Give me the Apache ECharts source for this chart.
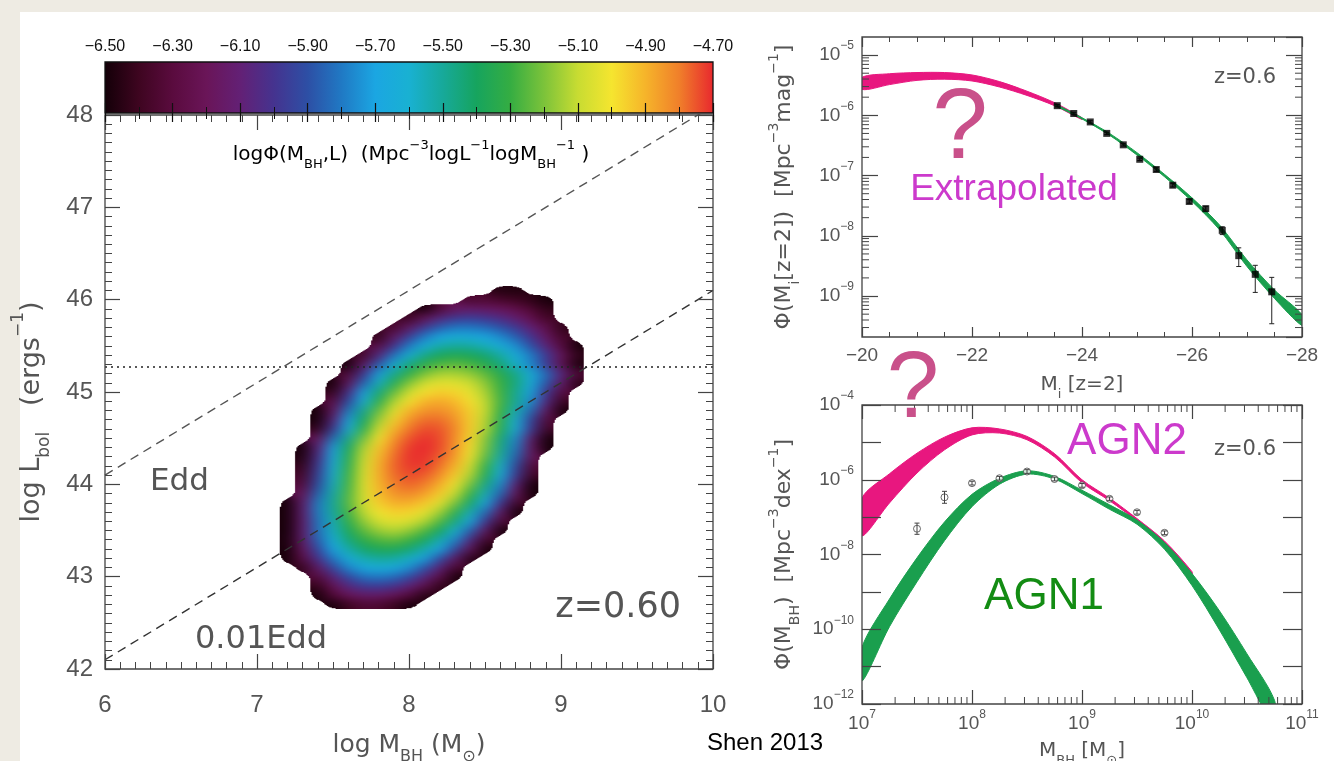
<!DOCTYPE html>
<html>
<head>
<meta charset="utf-8">
<script src="https://cdn.jsdelivr.net/npm/echarts@6/dist/echarts.min.js"></script>
<style>
html, body { margin: 0; padding: 0; width: 1334px; height: 761px; overflow: hidden; background: #eeebe3; }
#paper { position: absolute; left: 20px; top: 12px; width: 1314px; height: 749px; background: #ffffff; }
#chart { position: absolute; left: 0; top: 0; width: 1334px; height: 761px; }
</style>
</head>
<body>
<div id="paper"></div>
<div id="chart"></div>
<script>
// ---------- Left panel: joint distribution of BH mass and bolometric luminosity (z = 0.60) ----------
const massCols = [7.1, 7.2, 7.3, 7.4, 7.5, 7.6, 7.7, 7.8, 7.9, 8.0, 8.1, 8.2, 8.3, 8.4, 8.5, 8.6, 8.7, 8.8, 8.9, 9.0, 9.1, 9.2];
const lumRows = [46.1, 46.0, 45.9, 45.8, 45.7, 45.6, 45.5, 45.4, 45.3, 45.2, 45.1, 45.0, 44.9, 44.8, 44.7, 44.6,
                 44.5, 44.4, 44.3, 44.2, 44.1, 44.0, 43.9, 43.8, 43.7, 43.6, 43.5, 43.4, 43.3, 43.2, 43.1, 43.0,
                 42.9, 42.8, 42.7];
// logPhi per cell, in steps of 0.01 above the -6.50 floor ('-' = below the floor)
const densityRows = [
  "-  -  -  -  -  -  -  -  -  -  -  -  -  -  -  4  3  -  -  -  -  -",
  "-  -  -  -  -  -  -  -  -  -  -  -  -  15 16 14 11 6  1  -  -  -",
  "-  -  -  -  -  -  -  -  -  -  1  18 31 36 34 31 25 17 7  -  -  -",
  "-  -  -  -  -  -  -  -  -  9  30 44 52 54 51 46 38 26 12 -  -  -",
  "-  -  -  -  -  -  -  -  13 35 52 64 70 70 67 61 52 40 25 7  -  -",
  "-  -  -  -  -  -  -  7  34 55 71 81 86 85 81 74 64 50 33 13 -  -",
  "-  -  -  -  -  -  -  22 50 71 87 97 100 99 94 86 75 60 42 20 1  -",
  "-  -  -  -  -  -  12 43 69 89 103 111 114 112 107 98 86 71 53 31 7  -",
  "-  -  -  -  -  1  33 63 87 105 118 124 126 123 116 106 91 73 52 27 1  -",
  "-  -  -  -  -  16 51 79 102 119 130 136 136 133 126 116 103 86 67 43 17 -",
  "-  -  -  -  1  31 65 93 115 131 142 146 145 141 132 120 105 85 62 35 5  -",
  "-  -  -  -  8  47 79 106 127 142 151 155 153 147 136 121 102 79 51 19 -  -",
  "-  -  -  -  20 58 90 117 137 151 160 162 159 151 139 122 101 75 45 10 -  -",
  "-  -  -  1  32 70 102 127 146 160 166 167 163 154 140 120 96 66 32 1  -  -",
  "-  -  -  1  42 79 110 135 154 166 172 172 166 155 138 116 88 55 17 -  -  -",
  "-  -  -  8  52 88 119 143 160 171 176 175 168 155 137 114 86 52 12 -  -  -",
  "-  -  -  28 68 102 129 151 166 175 179 176 167 153 132 106 74 36 1  -  -  -",
  "-  -  1  41 79 111 137 156 170 178 180 176 166 151 130 103 70 32 1  -  -  -",
  "-  -  3  46 84 115 140 159 172 179 179 174 164 148 126 98 65 27 -  -  -  -",
  "-  -  8  51 88 118 143 161 173 178 178 171 160 142 119 91 57 17 -  -  -  -",
  "-  -  13 55 91 121 144 161 172 176 174 167 155 137 114 85 52 12 -  -  -  -",
  "-  -  18 59 94 122 145 160 170 173 170 161 148 129 104 74 39 1  -  -  -  -",
  "-  -  27 65 98 124 144 158 166 168 164 155 140 120 95 65 30 1  -  -  -  -",
  "-  1  36 71 101 125 143 155 161 161 156 146 130 108 82 50 12 -  -  -  -  -",
  "-  1  37 71 100 122 139 149 154 153 147 135 118 95 67 33 1  -  -  -  -  -",
  "-  1  36 69 96 118 133 143 146 144 137 124 105 81 51 16 -  -  -  -  -  -",
  "-  1  37 68 93 112 126 134 137 133 124 110 90 64 32 1  -  -  -  -  -  -",
  "-  2  36 65 88 106 118 124 126 121 111 95 73 45 12 -  -  -  -  -  -  -",
  "-  1  31 58 80 97 108 113 113 107 96 80 57 29 1  -  -  -  -  -  -  -",
  "-  1  23 49 70 86 96 100 99 92 79 60 35 4  -  -  -  -  -  -  -  -",
  "-  -  7  35 57 73 83 86 84 75 61 41 14 -  -  -  -  -  -  -  -  -",
  "-  -  -  18 42 58 68 70 67 58 43 23 1  -  -  -  -  -  -  -  -  -",
  "-  -  -  8  29 44 52 53 49 40 25 6  -  -  -  -  -  -  -  -  -  -",
  "-  -  -  1  18 30 35 35 29 19 3  -  -  -  -  -  -  -  -  -  -  -",
  "-  -  -  -  1  10 16 15 9  1  -  -  -  -  -  -  -  -  -  -  -  -"
];
const densityFloor = -6.5;
const colorbarRange = [-6.5, -4.7];
const colorbarPalette = [
  '#140008', '#3e0520', '#5a0b3e', '#6a1558', '#632075', '#45338f', '#2d4fa5', '#2079c4',
  '#1ba6e2', '#19b1d2', '#17a99a', '#16a45e', '#35ad42', '#7cc33a', '#c8dc32', '#f5e52f',
  '#f6b42a', '#f07f2a', '#e8292e'
];
const eddMass = [6, 10];
const eddLum = [44.1, 48.1];          // L = L_Edd
const eddPctLum = [42.1, 46.1];       // L = 0.01 L_Edd
const fluxLimitLum = 45.27;

// ---------- Top right: luminosity function at z = 0.6 ----------
const extrapMag = [-20, -20.5, -21, -21.5, -22, -22.5, -23, -23.5, -24];
const extrapHi = [-5.37, -5.31, -5.29, -5.29, -5.33, -5.44, -5.60, -5.79, -6.04];
const extrapLo = [-5.57, -5.49, -5.42, -5.40, -5.43, -5.53, -5.67, -5.84, -6.07];
const fitMag = [-23.5, -24, -24.5, -25, -25.5, -26, -26.5, -27, -27.5, -28];
const fitHi = [-5.81, -6.04, -6.30, -6.62, -6.98, -7.37, -7.82, -8.40, -8.90, -9.31];
const fitLo = [-5.83, -6.06, -6.33, -6.66, -7.02, -7.43, -7.90, -8.51, -9.04, -9.49];
const lfMag = [-23.55, -23.85, -24.15, -24.45, -24.75, -25.05, -25.35, -25.65, -25.95, -26.25, -26.55, -26.85, -27.15, -27.45];
const lfLogPhi = [-5.84, -5.97, -6.11, -6.30, -6.49, -6.73, -6.90, -7.16, -7.43, -7.55, -7.91, -8.33, -8.64, -8.93];
const lfLogLo = [-5.86, -5.99, -6.13, -6.32, -6.51, -6.75, -6.93, -7.19, -7.46, -7.59, -7.98, -8.51, -8.94, -9.46];
const lfLogHi = [-5.82, -5.95, -6.09, -6.28, -6.47, -6.71, -6.87, -7.13, -7.40, -7.51, -7.85, -8.20, -8.49, -8.69];

// ---------- Bottom right: BH mass function at z = 0.6 ----------
const agn2LogM = [7, 7.25, 7.5, 7.75, 8, 8.25, 8.5, 8.75, 9, 9.25, 9.5, 9.75, 10];
const agn2Hi = [-6.49, -5.84, -5.29, -4.86, -4.61, -4.64, -4.84, -5.30, -6.00, -6.49, -7.04, -7.64, -8.46];
const agn2Lo = [-7.50, -6.62, -5.82, -5.20, -4.80, -4.75, -4.93, -5.39, -6.08, -6.56, -7.10, -7.71, -8.55];
const agn1LogM = [7, 7.25, 7.5, 7.75, 8, 8.25, 8.5, 8.75, 9, 9.25, 9.5, 9.75, 10, 10.25, 10.5, 10.75];
const agn1Hi = [-10.48, -9.19, -8.09, -7.13, -6.39, -5.96, -5.76, -5.91, -6.28, -6.67, -7.08, -7.68, -8.51, -9.51, -10.66, -11.90];
const agn1Lo = [-11.39, -9.93, -8.73, -7.63, -6.72, -6.12, -5.85, -5.98, -6.37, -6.79, -7.19, -7.86, -8.83, -10.02, -11.30, -12.60];
const bhfLogM = [7.5, 7.75, 8, 8.25, 8.5, 8.75, 9, 9.25, 9.5, 9.75];
const bhfLogPhi = [-7.31, -6.47, -6.09, -5.96, -5.78, -5.98, -6.15, -6.51, -6.87, -7.42];
const bhfLogLo = [-7.46, -6.63, -6.14, -6.01, -5.83, -6.03, -6.20, -6.56, -6.92, -7.47];
const bhfLogHi = [-7.16, -6.31, -6.04, -5.91, -5.73, -5.93, -6.10, -6.46, -6.82, -7.37];

// ---------- styling helpers ----------
const FONT = "'Liberation Sans', 'DejaVu Sans', Arial, sans-serif";
const PLOTFONT = "'DejaVu Sans', 'Liberation Sans', sans-serif";
const INK = '#555';
const FRAME = '#444';
const PINK = '#e8177f';
const GREEN = '#1a9f4e';
const cellHalf = 0.05;
const rasterScale = 12;
const minorSteps = [2, 3, 4, 5, 6, 7, 8, 9].map(function (k) { return Math.log10(k); });

function rich(size, color, family) {
  const f = family || FONT;
  const small = Math.round(size * 0.64);
  return {
    n: { fontSize: size, lineHeight: Math.round(size * 1.6), verticalAlign: 'middle', color: color, fontFamily: f },
    sub: { fontSize: small, lineHeight: Math.round(size * 0.95), verticalAlign: 'bottom', color: color, fontFamily: f },
    sup: { fontSize: small, lineHeight: Math.round(size * 0.95), verticalAlign: 'top', color: color, fontFamily: f }
  };
}
function pow10(v) {
  const n = Math.round(v);
  return '{n|10}{sup|' + (n < 0 ? '\u2212' + (-n) : n) + '}';
}
function minusSign(s) { return String(s).replace('-', '\u2212'); }

// density cells [logM, logL, logPhi, column, row]
const densityCells = [];
lumRows.forEach(function (y, r) {
  densityRows[r].trim().split(/\s+/).forEach(function (tok, c) {
    if (tok !== '-') densityCells.push([massCols[c], y, densityFloor + Number(tok) / 100, c, r]);
  });
});

// Paint the cells into a raster (one pixel per cell), resample it smoothly on a canvas,
// and keep a crisp outline by thresholding the coverage.
function buildDensityRaster() {
  const nx = massCols.length, ny = lumRows.length;
  const small = document.createElement('canvas');
  small.width = nx; small.height = ny;
  const sctx = small.getContext('2d');
  const img = sctx.createImageData(nx, ny);
  const span = colorbarRange[1] - colorbarRange[0];
  densityCells.forEach(function (cell) {
    const t = Math.min(1, Math.max(0, (cell[2] - colorbarRange[0]) / span));
    const rgba = echarts.color.parse(echarts.color.lerp(t, colorbarPalette));
    const i = (cell[4] * nx + cell[3]) * 4;
    img.data[i] = rgba[0]; img.data[i + 1] = rgba[1]; img.data[i + 2] = rgba[2]; img.data[i + 3] = 255;
  });
  sctx.putImageData(img, 0, 0);

  const W = nx * rasterScale, H = ny * rasterScale;
  const big = document.createElement('canvas');
  big.width = W; big.height = H;
  const bctx = big.getContext('2d');
  bctx.imageSmoothingEnabled = true;
  bctx.drawImage(small, 0, 0, W, H);

  const soft = document.createElement('canvas');
  soft.width = W; soft.height = H;
  const fctx = soft.getContext('2d');
  fctx.filter = 'blur(' + Math.round(rasterScale * 0.45) + 'px)';
  fctx.drawImage(big, 0, 0);
  fctx.filter = 'none';

  const px = fctx.getImageData(0, 0, W, H);
  for (let i = 3; i < px.data.length; i += 4) px.data[i] = px.data[i] >= 128 ? 255 : 0;
  fctx.putImageData(px, 0, 0);
  return soft;
}
const densityRaster = buildDensityRaster();

function renderDensity(params, api) {
  const p0 = api.coord([massCols[0] - cellHalf, lumRows[0] + cellHalf]);
  const p1 = api.coord([massCols[massCols.length - 1] + cellHalf, lumRows[lumRows.length - 1] - cellHalf]);
  return {
    type: 'image',
    style: { image: densityRaster, x: p0[0], y: p0[1], width: p1[0] - p0[0], height: p1[1] - p0[1] }
  };
}

function renderColorbar(params, api) {
  const a = api.coord([api.value(0), 0]);
  const b = api.coord([api.value(1), 1]);
  const stops = colorbarPalette.map(function (c, i) { return { offset: i / (colorbarPalette.length - 1), color: c }; });
  return {
    type: 'rect',
    shape: { x: a[0], y: b[1], width: b[0] - a[0], height: a[1] - b[1] },
    style: { fill: new echarts.graphic.LinearGradient(0, 0, 1, 0, stops) }
  };
}

function bandRenderer(xs, lo, hi, color) {
  return function (params, api) {
    const pts = [];
    xs.forEach(function (x, i) { pts.push(api.coord([x, hi[i]])); });
    for (let i = xs.length - 1; i >= 0; i--) pts.push(api.coord([xs[i], lo[i]]));
    const cs = params.coordSys;
    return {
      type: 'polygon',
      shape: { points: pts, smooth: 0.3 },
      style: { fill: color, stroke: color, lineWidth: 1 },
      clipPath: { type: 'rect', shape: { x: cs.x, y: cs.y, width: cs.width, height: cs.height } }
    };
  };
}

function errorBarRenderer(capHalf, color) {
  return function (params, api) {
    const x = api.value(0);
    const lo = api.coord([x, api.value(1)]);
    const hi = api.coord([x, api.value(2)]);
    const st = { stroke: color, lineWidth: 1 };
    return {
      type: 'group',
      children: [
        { type: 'line', shape: { x1: lo[0], y1: lo[1], x2: hi[0], y2: hi[1] }, style: st },
        { type: 'line', shape: { x1: lo[0] - capHalf, y1: lo[1], x2: lo[0] + capHalf, y2: lo[1] }, style: st },
        { type: 'line', shape: { x1: hi[0] - capHalf, y1: hi[1], x2: hi[0] + capHalf, y2: hi[1] }, style: st }
      ]
    };
  };
}

// log-spaced minor ticks (2..9 per decade) along a log10-valued axis
function logMinorTicks(dir, decades, lo, hi, refValue, len) {
  return function (params, api) {
    const cs = params.coordSys;
    const children = [];
    const st = { stroke: FRAME, lineWidth: 1 };
    decades.forEach(function (n) {
      minorSteps.forEach(function (s) {
        const t = n + s;
        if (t <= lo || t >= hi) return;
        if (dir === 'y') {
          const y = api.coord([refValue, t])[1];
          children.push({ type: 'line', shape: { x1: cs.x, y1: y, x2: cs.x + len, y2: y }, style: st });
          children.push({ type: 'line', shape: { x1: cs.x + cs.width - len, y1: y, x2: cs.x + cs.width, y2: y }, style: st });
        } else {
          const x = api.coord([t, refValue])[0];
          children.push({ type: 'line', shape: { x1: x, y1: cs.y + cs.height, x2: x, y2: cs.y + cs.height - len }, style: st });
          children.push({ type: 'line', shape: { x1: x, y1: cs.y, x2: x, y2: cs.y + len }, style: st });
        }
      });
    });
    return { type: 'group', children: children };
  };
}

const tickLine = { color: FRAME, width: 1.2 };
function frameAxis(extra) {
  return Object.assign({
    type: 'value',
    axisLine: { show: false },
    splitLine: { show: false },
    axisLabel: { show: false },
    nameMoveOverlap: false,
    z: 6
  }, extra);
}
function frameGrid(left, top, width, height, color) {
  return { left: left, top: top, width: width, height: height, show: true, borderColor: color, borderWidth: 1.3,
           containLabel: false, outerBoundsMode: 'none', z: 5 };
}
function label(text, x, y, size, fill, align, family) {
  return { type: 'text', x: x, y: y, z: 100, silent: true,
           style: { text: text, fontSize: size, fontFamily: family || FONT, fill: fill,
                    align: align, textAlign: align, verticalAlign: 'middle', textVerticalAlign: 'middle' } };
}

const chart = echarts.init(document.getElementById('chart'), null, { renderer: 'canvas' });

const option = {
  animation: false,
  backgroundColor: 'transparent',
  textStyle: { fontFamily: FONT },
  grid: [
    frameGrid(105, 115, 608, 554, FRAME),
    frameGrid(105, 62, 608, 51, '#111'),
    frameGrid(862, 37, 440, 300, FRAME),
    frameGrid(862, 405, 440, 299, FRAME)
  ],
  xAxis: [
    frameAxis({
      gridIndex: 0, min: 6, max: 10, interval: 1, position: 'bottom',
      axisTick: { inside: true, length: 15, lineStyle: tickLine },
      minorTick: { show: true, splitNumber: 10, length: 7, lineStyle: { color: FRAME, width: 1 } },
      axisLabel: { show: true, fontSize: 24, color: INK, margin: 24, fontFamily: FONT },
      name: '{n|log M}{sub|BH}{n| (M}{sub|\u2299}{n|)}', nameLocation: 'middle', nameGap: 56,
      nameTextStyle: { rich: rich(25, INK, PLOTFONT) }
    }),
    frameAxis({
      gridIndex: 0, min: 6, max: 10, interval: 1, position: 'top',
      axisTick: { inside: true, length: 15, lineStyle: tickLine },
      minorTick: { show: true, splitNumber: 10, length: 7, lineStyle: { color: FRAME, width: 1 } }
    }),
    frameAxis({
      gridIndex: 1, min: colorbarRange[0], max: colorbarRange[1], interval: 0.2, position: 'top',
      axisTick: { inside: true, length: 9, lineStyle: { color: '#111', width: 1.2 } },
      minorTick: { show: true, splitNumber: 2, length: 6, lineStyle: { color: '#111', width: 1 } },
      axisLabel: { show: true, fontSize: 16, color: '#111', margin: 7, fontFamily: FONT,
                   formatter: function (v) { return minusSign(v.toFixed(2)); } }
    }),
    frameAxis({
      gridIndex: 1, min: colorbarRange[0], max: colorbarRange[1], interval: 0.2, position: 'bottom',
      axisTick: { inside: true, length: 10, lineStyle: { color: '#111', width: 1.2 } },
      minorTick: { show: true, splitNumber: 2, length: 6, lineStyle: { color: '#111', width: 1 } }
    }),
    frameAxis({
      gridIndex: 2, min: -28, max: -20, interval: 2, inverse: true, position: 'bottom',
      axisTick: { inside: true, length: 10, lineStyle: tickLine },
      minorTick: { show: true, splitNumber: 4, length: 5, lineStyle: { color: FRAME, width: 1 } },
      axisLabel: { show: true, fontSize: 19, color: INK, margin: 9, fontFamily: FONT,
                   formatter: function (v) { return minusSign(v); } },
      name: '{n|M}{sub|i}{n| [z=2]}', nameLocation: 'middle', nameGap: 32,
      nameTextStyle: { rich: rich(20, INK, PLOTFONT) }
    }),
    frameAxis({
      gridIndex: 2, min: -28, max: -20, interval: 2, inverse: true, position: 'top',
      axisTick: { inside: true, length: 10, lineStyle: tickLine },
      minorTick: { show: true, splitNumber: 4, length: 5, lineStyle: { color: FRAME, width: 1 } }
    }),
    frameAxis({
      gridIndex: 3, min: 7, max: 11, interval: 1, position: 'bottom',
      axisTick: { inside: true, length: 14, lineStyle: tickLine },
      axisLabel: { show: true, margin: 5, formatter: pow10, rich: rich(19, INK) },
      name: '{n|M}{sub|BH}{n| [M}{sub|\u2299}{n|]}', nameLocation: 'middle', nameGap: 31,
      nameTextStyle: { rich: rich(20, INK, PLOTFONT) }
    }),
    frameAxis({
      gridIndex: 3, min: 7, max: 11, interval: 1, position: 'top',
      axisTick: { inside: true, length: 14, lineStyle: tickLine }
    })
  ],
  yAxis: [
    frameAxis({
      gridIndex: 0, min: 42, max: 48, interval: 1, position: 'left',
      axisTick: { inside: true, length: 15, lineStyle: tickLine },
      minorTick: { show: true, splitNumber: 10, length: 7, lineStyle: { color: FRAME, width: 1 } },
      axisLabel: { show: true, fontSize: 24, color: INK, margin: 12, fontFamily: FONT },
      name: '{n|log L}{sub|bol}{n|   (ergs}{sup|\u22121}{n|)}', nameLocation: 'middle', nameGap: 52, nameRotate: 90,
      nameTextStyle: { rich: rich(27, INK, PLOTFONT), padding: [0, 40, 0, 0] }
    }),
    frameAxis({
      gridIndex: 0, min: 42, max: 48, interval: 1, position: 'right',
      axisTick: { inside: true, length: 15, lineStyle: tickLine },
      minorTick: { show: true, splitNumber: 10, length: 7, lineStyle: { color: FRAME, width: 1 } }
    }),
    frameAxis({ gridIndex: 1, min: 0, max: 1, show: false }),
    frameAxis({
      gridIndex: 2, min: -9.68, max: -4.7, splitNumber: 5, position: 'left',
      axisTick: { inside: true, length: 16, lineStyle: tickLine },
      axisLabel: { show: true, margin: 8, formatter: pow10, rich: rich(19, INK), showMinLabel: false, showMaxLabel: false },
      name: '{n|\u03a6(M}{sub|i}{n|[z=2])  [Mpc}{sup|\u22123}{n|mag}{sup|\u22121}{n|]}', nameLocation: 'middle', nameGap: 60, nameRotate: 90,
      nameTextStyle: { rich: rich(22, INK, PLOTFONT) }
    }),
    frameAxis({
      gridIndex: 2, min: -9.68, max: -4.7, splitNumber: 5, position: 'right',
      axisTick: { inside: true, length: 16, lineStyle: tickLine }
    }),
    frameAxis({
      gridIndex: 3, min: -12, max: -4, interval: 1, position: 'left',
      axisTick: { inside: true, length: 19, lineStyle: tickLine },
      axisLabel: { show: true, margin: 8, rich: rich(19, INK),
                   formatter: function (v) { return Math.round(v) % 2 === 0 ? pow10(v) : ''; } },
      name: '{n|\u03a6(M}{sub|BH}{n|)  [Mpc}{sup|\u22123}{n|dex}{sup|\u22121}{n|]}', nameLocation: 'middle', nameGap: 60, nameRotate: 90,
      nameTextStyle: { rich: rich(22, INK, PLOTFONT) }
    }),
    frameAxis({
      gridIndex: 3, min: -12, max: -4, interval: 1, position: 'right',
      axisTick: { inside: true, length: 19, lineStyle: tickLine }
    })
  ],
  series: [
    // 0: density map
    { type: 'custom', xAxisIndex: 0, yAxisIndex: 0, renderItem: renderDensity,
      data: [[massCols[0], lumRows[0]]], silent: true, z: 2 },
    // 1: colour bar
    { type: 'custom', xAxisIndex: 2, yAxisIndex: 2, renderItem: renderColorbar,
      data: [[colorbarRange[0], colorbarRange[1]]], encode: { x: [0, 1] }, silent: true, z: 2 },
    // 2-4: Eddington ratio lines and flux limit
    { type: 'line', xAxisIndex: 0, yAxisIndex: 0, symbol: 'none', silent: true, z: 3,
      data: eddMass.map(function (m, i) { return [m, eddLum[i]]; }),
      lineStyle: { color: '#555', width: 1.4, type: [9, 6] } },
    { type: 'line', xAxisIndex: 0, yAxisIndex: 0, symbol: 'none', silent: true, z: 3,
      data: eddMass.map(function (m, i) { return [m, eddPctLum[i]]; }),
      lineStyle: { color: '#333', width: 1.4, type: [9, 6] } },
    { type: 'line', xAxisIndex: 0, yAxisIndex: 0, symbol: 'none', silent: true, z: 3,
      data: [[6, fluxLimitLum], [10, fluxLimitLum]],
      lineStyle: { color: '#222', width: 1.6, type: [2, 4] } },
    // 5-9: luminosity function
    { type: 'custom', xAxisIndex: 4, yAxisIndex: 3, silent: true, z: 2,
      renderItem: bandRenderer(extrapMag, extrapLo, extrapHi, PINK), data: [[extrapMag[0], extrapHi[0]]] },
    { type: 'custom', xAxisIndex: 4, yAxisIndex: 3, silent: true, z: 3,
      renderItem: bandRenderer(fitMag, fitLo, fitHi, GREEN), data: [[fitMag[0], fitHi[0]]] },
    { type: 'custom', xAxisIndex: 4, yAxisIndex: 3, silent: true, z: 4,
      renderItem: errorBarRenderer(2.5, '#222'),
      data: lfMag.map(function (m, i) { return [m, lfLogLo[i], lfLogHi[i]]; }), encode: { x: 0, y: [1, 2] } },
    { type: 'scatter', xAxisIndex: 4, yAxisIndex: 3, silent: true, z: 5, symbol: 'rect', symbolSize: 7,
      itemStyle: { color: '#000' }, data: lfMag.map(function (m, i) { return [m, lfLogPhi[i]]; }) },
    { type: 'custom', xAxisIndex: 4, yAxisIndex: 3, silent: true, z: 6,
      renderItem: logMinorTicks('y', [-10, -9, -8, -7, -6, -5], -9.68, -4.7, -24, 7), data: [[-24, -7]] },
    // 10-14: black-hole mass function
    { type: 'custom', xAxisIndex: 6, yAxisIndex: 5, silent: true, z: 2,
      renderItem: bandRenderer(agn2LogM, agn2Lo, agn2Hi, PINK), data: [[agn2LogM[0], agn2Hi[0]]] },
    { type: 'custom', xAxisIndex: 6, yAxisIndex: 5, silent: true, z: 3,
      renderItem: bandRenderer(agn1LogM, agn1Lo, agn1Hi, GREEN), data: [[agn1LogM[0], agn1Hi[0]]] },
    { type: 'scatter', xAxisIndex: 6, yAxisIndex: 5, silent: true, z: 4, symbol: 'circle', symbolSize: 7,
      itemStyle: { color: '#fff', borderColor: '#444', borderWidth: 1 },
      data: bhfLogM.map(function (m, i) { return [m, bhfLogPhi[i]]; }) },
    { type: 'custom', xAxisIndex: 6, yAxisIndex: 5, silent: true, z: 5,
      renderItem: errorBarRenderer(2.5, '#444'),
      data: bhfLogM.map(function (m, i) { return [m, bhfLogLo[i], bhfLogHi[i]]; }), encode: { x: 0, y: [1, 2] } },
    { type: 'custom', xAxisIndex: 6, yAxisIndex: 5, silent: true, z: 6,
      renderItem: logMinorTicks('x', [7, 8, 9, 10], 7, 11, -8, 7), data: [[8, -8]] }
  ],
  graphic: [
    label('Edd', 150, 482, 31, INK, 'left', PLOTFONT),
    label('0.01Edd', 195, 640, 32, INK, 'left', PLOTFONT),
    label('z=0.60', 681, 608, 35, INK, 'right', PLOTFONT),
    { type: 'text', x: 411, y: 155, z: 100, silent: true, style: {
        text: '{n|log\u03a6(M}{sub|BH}{n|,L)  (Mpc}{sup|\u22123}{n|logL}{sup|\u22121}{n|logM}{sub|BH}{sup|\u22121}{n| )}',
        rich: rich(20, '#444', PLOTFONT), align: 'center', textAlign: 'center', verticalAlign: 'middle', textVerticalAlign: 'middle' } },
    label('z=0.6', 1276, 78, 21, INK, 'right', PLOTFONT),
    label('z=0.6', 1276, 450, 21, INK, 'right', PLOTFONT),
    label('?', 960, 130, 100, '#c9508a', 'center'),
    label('?', 913, 391, 94, '#c9508a', 'center'),
    label('Extrapolated', 1014, 190, 37, '#cc3acc', 'center'),
    label('AGN2', 1127, 442, 44, '#cc3acc', 'center'),
    label('AGN1', 1044, 597, 44, '#138c13', 'center'),
    label('Shen 2013', 707, 743, 24, '#000', 'left')
  ]
};

chart.setOption(option);
</script>
</body>
</html>
